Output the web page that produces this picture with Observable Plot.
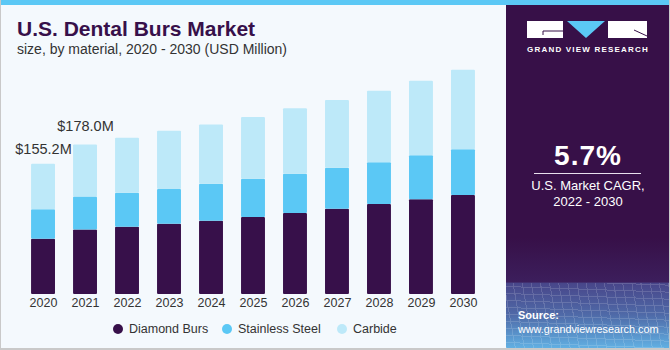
<!DOCTYPE html>
<html>
<head>
<meta charset="utf-8">
<script src="https://cdn.jsdelivr.net/npm/d3@7"></script>
<script src="https://cdn.jsdelivr.net/npm/@observablehq/plot@0.6"></script>
<style>
  html, body { margin: 0; padding: 0; background: #fff; }
  #wrap { position: relative; width: 670px; height: 350px; overflow: hidden; font-family: "Liberation Sans", Arial, sans-serif; background: #f4f9fd; }
  #stripe { position: absolute; left: 0; top: 0; width: 670px; height: 5px; background: #5bc8f5; z-index: 3; }
  #borderL { position: absolute; left: 0; top: 0; width: 1px; height: 350px; background: #c9c9c9; z-index: 4; }
  #borderB { position: absolute; left: 0; top: 348px; width: 670px; height: 2px; background: #c9c9c9; z-index: 4; }
  #borderR { position: absolute; left: 669px; top: 0; width: 1px; height: 350px; background: #c9c9c9; z-index: 4; }
  #title { position: absolute; left: 17px; top: 17.5px; font-size: 21px; line-height: 21px; font-weight: bold; color: #37104a; white-space: nowrap; }
  #subtitle { position: absolute; left: 17px; top: 41.5px; font-size: 14px; line-height: 14px; color: #333; white-space: nowrap; }
  #chart { position: absolute; left: 0; top: 0; }
  #legend { position: absolute; left: 0; top: 321px; width: 505px; height: 16px; font-size: 12.5px; color: #333; }
  .li { position: absolute; top: 0; line-height: 16px; white-space: nowrap; }
  .dot { position: absolute; top: 3px; width: 10px; height: 10px; border-radius: 50%; }
  #panel { position: absolute; left: 506px; top: 0; width: 164px; height: 350px;
    background: linear-gradient(180deg, #371048 0%, #371048 68%, #3c1e5c 80.5%, #48468a 81%, #4f6aa8 90%, #62b4e6 100%); }
  #grid { position: absolute; left: 0; top: 283px; width: 164px; height: 67px; opacity: 0.16;
    background-image: repeating-linear-gradient(80deg, rgba(255,255,255,0.9) 0 1px, transparent 1px 9px),
                      repeating-linear-gradient(2deg, rgba(255,255,255,0.9) 0 1px, transparent 1px 7px); }
  .pt { position: absolute; left: 0; width: 164px; text-align: center; color: #fff; white-space: nowrap; }
</style>
</head>
<body>
<div id="wrap">
  <div id="chart"></div>
  <div id="title">U.S. Dental Burs Market</div>
  <div id="subtitle">size, by material, 2020 - 2030 (USD Million)</div>
  <div id="legend"></div>
  <div id="panel">
    <div id="grid"></div>
    <svg style="position:absolute;left:0;top:0" width="164" height="60">
      <rect x="21" y="21" width="36" height="17" fill="#fff"/>
      <path d="M37 31 H57 M37 31 V35" stroke="#371048" stroke-width="1" fill="none"/>
      <polygon points="61,21 99,21 80,38" fill="#5bc8f5"/>
      <rect x="102" y="21" width="39" height="17" fill="#fff"/>
      <path d="M128 30 L141 36" stroke="#371048" stroke-width="1" fill="none"/>
    </svg>
    <div class="pt" style="top:45.5px;font-size:8px;line-height:8px;font-weight:bold;letter-spacing:1.2px;">GRAND VIEW RESEARCH</div>
    <div class="pt" style="top:142px;font-size:28px;line-height:28px;font-weight:bold;letter-spacing:1px;">5.7%</div>
    <div style="position:absolute;left:28px;top:173px;width:107px;height:1px;background:#e8e0ee;"></div>
    <div class="pt" style="top:179px;font-size:13px;line-height:13px;">U.S. Market CAGR,</div>
    <div class="pt" style="top:194.5px;font-size:13px;line-height:13px;">2022 - 2030</div>
    <div style="position:absolute;left:12px;top:310px;font-size:11px;line-height:11px;font-weight:bold;color:#fff;">Source:</div>
    <div style="position:absolute;left:12px;top:323.5px;font-size:10.8px;line-height:11px;color:#fff;white-space:nowrap;">www.grandviewresearch.com</div>
  </div>
  <div id="stripe"></div>
  <div id="borderL"></div>
  <div id="borderR"></div>
  <div id="borderB"></div>
</div>
<script>
const years = ["2020","2021","2022","2023","2024","2025","2026","2027","2028","2029","2030"];
const materials = ["Diamond Burs", "Stainless Steel", "Carbide"];
const diamondBurs    = [65.9, 76.8, 80.1, 83.7, 87.2, 91.6, 96.4, 101.5, 107.1, 112.7, 117.8];
const stainlessSteel = [35.0, 39.4, 40.5, 41.3, 44.0, 45.6, 46.8, 48.8, 49.6, 52.4, 54.4];
const carbide        = [54.3, 61.8, 65.5, 69.4, 70.7, 73.4, 77.8, 80.6, 85.2, 88.8, 94.7];
const colors = ["#37104a", "#5bc8f5", "#bde9f9"];
const labelYears = ["2020", "2021"];

const series = [diamondBurs, stainlessSteel, carbide];
const data = [];
years.forEach((yr, i) => {
  materials.forEach((m, j) => data.push({year: yr, material: m, value: series[j][i]}));
});
const totals = years.map((yr, i) => ({year: yr, total: series.reduce((s, a) => s + a[i], 0)}));
const fmt = d => "$" + d.total.toFixed(1) + "M";

const chart = Plot.plot({
  width: 505,
  height: 315,
  marginLeft: 13,
  marginRight: 12,
  marginTop: 42,
  marginBottom: 21,
  style: {background: "transparent", fontFamily: "'Liberation Sans', Arial, sans-serif"},
  x: {type: "band", domain: years, padding: 0.43, round: false, label: null},
  y: {domain: [0, 300], axis: null},
  color: {domain: materials, range: colors},
  marks: [
    Plot.barY(data, {x: "year", y: "value", fill: "material", rx: 1}),
    Plot.axisX({tickSize: 0, tickPadding: 4, fontSize: 12.5, color: "#333", label: null}),
    Plot.text(totals.filter(d => d.year === labelYears[0]), {x: "year", y: "total", text: fmt, dy: -15, fontSize: 14.5, fill: "#333"}),
    Plot.text(totals.filter(d => d.year === labelYears[1]), {x: "year", y: "total", text: fmt, dy: -19, fontSize: 14.5, fill: "#333"})
  ]
});
document.getElementById("chart").appendChild(chart);

const legendX = [113, 222, 337];
const legend = document.getElementById("legend");
materials.forEach((m, j) => {
  const item = document.createElement("div");
  item.className = "li";
  item.style.left = legendX[j] + "px";
  item.innerHTML = `<span class="dot" style="left:0;background:${colors[j]}"></span><span style="margin-left:16px">${m}</span>`;
  legend.appendChild(item);
});
</script>
</body>
</html>
